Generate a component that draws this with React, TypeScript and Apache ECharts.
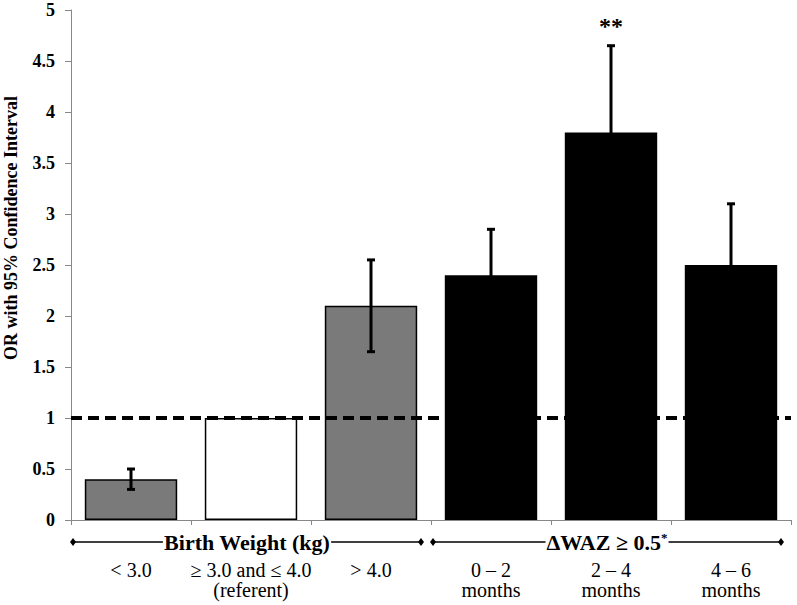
import React, { useEffect, useRef } from "react";
import * as echarts from "echarts";

const categories = ["< 3.0", "≥ 3.0 and ≤ 4.0\n(referent)", "> 4.0", "0 – 2\nmonths", "2 – 4\nmonths", "4 – 6\nmonths"];
const orValues = [0.4, 1.0, 2.1, 2.4, 3.8, 2.5];
const ciLower = [0.3, null, 1.65, 1.95, 2.95, 1.9];
const ciUpper = [0.5, null, 2.55, 2.85, 4.65, 3.1];
const barColors = ["#7a7a7a", "#ffffff", "#7a7a7a", "#000000", "#000000", "#000000"];
const significance = ["", "", "", "", "**", ""];
const yTicks = { min: 0, max: 5, interval: 0.5 };
const referenceLine = 1;
const yTitle = "OR with 95% Confidence Interval";
const groups = [
  { label: "Birth Weight (kg)", from: 0, to: 2 },
  { label: "ΔWAZ ≥ 0.5", from: 3, to: 5, sup: "*" },
];

const FONT = "'Liberation Serif', 'Times New Roman', serif";
const GRID = { left: 71, top: 10, right: 6, bottom: 85 };
const W = 797;
const H = 605;

export default function App() {
  const ref = useRef<HTMLDivElement>(null);
  useEffect(() => {
    if (!ref.current) return;
    const chart = echarts.init(ref.current, null, { renderer: "svg" });
    const plotW = W - GRID.left - GRID.right;
    const band = plotW / categories.length;
    const lineY = 542;
    const graphics: any[] = [];
    graphics.push({
      type: "text",
      x: 11,
      y: 228,
      rotation: Math.PI / 2,
      style: {
        text: yTitle,
        align: "center",
        verticalAlign: "middle",
        fontFamily: FONT,
        fontWeight: "bold",
        fontSize: 18,
        fill: "#000",
      },
    });
    groups.forEach((g) => {
      const x1 = GRID.left + g.from * band + 2;
      const x2 = GRID.left + (g.to + 1) * band - 10;
      graphics.push({
        type: "line",
        shape: { x1, y1: lineY, x2, y2: lineY },
        style: { stroke: "#000", lineWidth: 1.5 },
      });
      [x1, x2].forEach((x) =>
        graphics.push({
          type: "polygon",
          shape: { points: [[x - 3, lineY], [x, lineY - 4], [x + 3, lineY], [x, lineY + 4]] },
          style: { fill: "#000" },
        })
      );
      graphics.push({
        type: "text",
        x: (x1 + x2) / 2,
        y: lineY,
        style: {
          text: g.sup ? `{a|${g.label}}{b|${g.sup}}` : `{a|${g.label}}`,
          align: "center",
          verticalAlign: "middle",
          backgroundColor: "#fff",
          padding: [0, 1],
          rich: {
            a: { fontFamily: FONT, fontWeight: "bold", fontSize: 22, color: "#000" } as any,
            b: { fontFamily: FONT, fontWeight: "bold", fontSize: 13, verticalAlign: "top", color: "#000", padding: [0, 0, 9, 0] } as any,
          },
        },
      });
    });

    chart.setOption({
      animation: false,
      grid: { ...GRID, containLabel: false },
      graphic: graphics,
      xAxis: {
        type: "category",
        data: categories,
        axisLine: { lineStyle: { color: "#888", width: 1 } },
        axisTick: { show: true, alignWithLabel: false, length: 5, lineStyle: { color: "#888" } },
        axisLabel: {
          interval: 0,
          margin: 40,
          fontFamily: FONT,
          fontSize: 20,
          lineHeight: 20,
          color: "#000",
        },
      },
      yAxis: {
        type: "value",
        min: yTicks.min,
        max: yTicks.max,
        interval: yTicks.interval,
        axisLine: { show: true, lineStyle: { color: "#888" } },
        axisTick: { show: true, length: 6, lineStyle: { color: "#888" } },
        splitLine: { show: false },
        axisLabel: { fontFamily: FONT, fontWeight: "bold", fontSize: 18, color: "#000", margin: 16 },
      },
      series: [
        {
          type: "bar",
          barWidth: "77%",
          data: orValues.map((v, i) => ({
            value: v,
            itemStyle: { color: barColors[i], borderColor: "#000", borderWidth: 1.5 },
          })),
          z: 2,
          markLine: {
            silent: true,
            symbol: "none",
            label: { show: false },
            lineStyle: { color: "#000", type: [11, 6], width: 4 },
            data: [{ yAxis: referenceLine }],
            z: 5,
          },
        },
        {
          type: "custom",
          z: 6,
          data: orValues.map((_, i) => [i, ciLower[i], ciUpper[i]]),
          renderItem: (params: any, api: any) => {
            const i = api.value(0);
            const lo = ciLower[i];
            const hi = ciUpper[i];
            const children: any[] = [];
            if (lo != null && hi != null) {
              const pLo = api.coord([i, lo]);
              const pHi = api.coord([i, hi]);
              const s = { stroke: "#000", lineWidth: 3 };
              children.push({ type: "line", shape: { x1: pLo[0], y1: pLo[1], x2: pHi[0], y2: pHi[1] }, style: s });
              children.push({ type: "line", shape: { x1: pLo[0] - 4, y1: pLo[1], x2: pLo[0] + 4, y2: pLo[1] }, style: s });
              children.push({ type: "line", shape: { x1: pHi[0] - 4, y1: pHi[1], x2: pHi[0] + 4, y2: pHi[1] }, style: s });
              if (significance[i]) {
                children.push({
                  type: "text",
                  x: pHi[0],
                  y: pHi[1] - 20,
                  style: {
                    text: significance[i],
                    align: "center",
                    verticalAlign: "middle",
                    fontFamily: FONT,
                    fontWeight: "bold",
                    fontSize: 24,
                    fill: "#000",
                  },
                });
              }
            }
            return { type: "group", children };
          },
        },
      ],
    });
    return () => chart.dispose();
  }, []);
  return <div ref={ref} style={{ width: W, height: H, position: "absolute", left: 0, top: 0 }} />;
}
